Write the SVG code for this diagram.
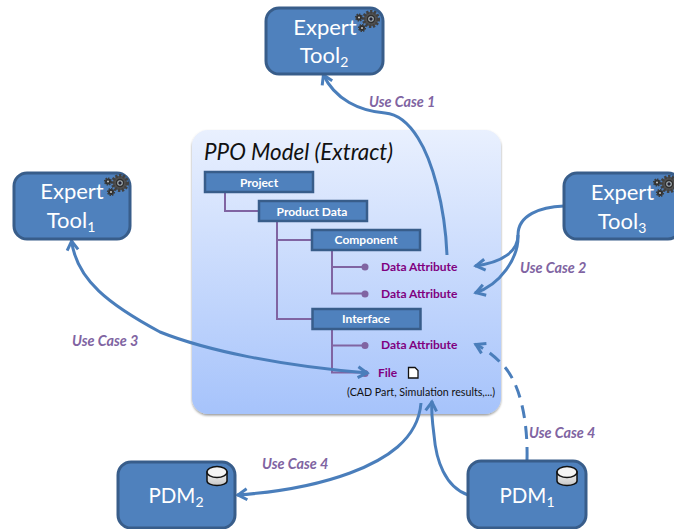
<svg xmlns="http://www.w3.org/2000/svg" xmlns:xlink="http://www.w3.org/1999/xlink" width="674" height="529" viewBox="0 0 674 529">
<style>
text{font-family:"Lato","Open Sans","Liberation Sans",sans-serif}
.node{fill:#4f81bd;stroke:#385d8a;stroke-width:3}
.nt{fill:#fff;font-size:22px;text-anchor:middle}
.pd{font-size:20.500px}
.sub{font-size:14px}
.tb{fill:#4f81bd;stroke:#385d8a;stroke-width:2.500}
.tt{fill:#fff;font-size:12px;font-weight:700;text-anchor:middle}
.tree{fill:none;stroke:#8064a2;stroke-width:2}
.dot{fill:#8064a2}
.attr{fill:#800080;font-size:12px;font-weight:700}
.uc{fill:#8064a2;font-size:14.400px;font-weight:700;font-style:italic}
.c{fill:none;stroke:#4a7ebb;stroke-width:3}
</style>
<defs>
<linearGradient id="panel" x1="0" y1="0" x2="0" y2="1"><stop offset="0" stop-color="#e9f0fe"/><stop offset="1" stop-color="#a6c3fb"/></linearGradient>
<filter id="sh" x="-5%" y="-5%" width="110%" height="110%"><feDropShadow dx="0" dy="1.500" stdDeviation="1.200" flood-color="#000" flood-opacity=".4"/></filter>
<marker id="a" viewBox="0 0 16 16" refX="2" refY="8" markerWidth="16" markerHeight="16" markerUnits="userSpaceOnUse" orient="auto"><path d="M12,2.500 L3,8 L12,13.500" fill="none" stroke="#4a7ebb" stroke-width="3"/></marker>
<marker id="b" viewBox="0 0 16 16" refX="14" refY="8" markerWidth="16" markerHeight="16" markerUnits="userSpaceOnUse" orient="auto"><path d="M4,2.500 L13,8 L4,13.500" fill="none" stroke="#4a7ebb" stroke-width="3"/></marker>
<g id="gears">
<circle r="7.300" fill="#505050" stroke="#404040" stroke-width="3.500" stroke-dasharray="2.200 1.500"/><circle r="4.200" fill="#2e2e2e"/><circle r="2.800" fill="#a9b4b8"/><circle r="1.700" fill="#223"/>
<circle cx="-12" cy="-1.500" r="3" fill="#2e2e2e" stroke="#3c3c3c" stroke-width="2.200" stroke-dasharray="1.300 1"/><circle cx="-12" cy="-1.500" r="1.100" fill="#bbb"/>
<circle cx="-9" cy="9" r="3" fill="#2e2e2e" stroke="#3c3c3c" stroke-width="2.200" stroke-dasharray="1.300 1"/><circle cx="-9" cy="9" r="1.100" fill="#bbb"/>
</g>
<linearGradient id="dg" x1="0" y1="0" x2="0" y2="1"><stop offset="0" stop-color="#f2f2f2"/><stop offset="1" stop-color="#c8c8c8"/></linearGradient>
<g id="disk">
<path d="M-10,-4 V5 A10,4.500 0 0 0 10,5 V-4Z" fill="url(#dg)" stroke="#111" stroke-width="1.500"/>
<ellipse cx="0" cy="-4" rx="10" ry="5.500" fill="#f4f4f4" stroke="#111" stroke-width="1.500"/>
</g>
</defs>

<g id="panel-ppo">
<rect x="192" y="130" width="309" height="284" rx="16" fill="url(#panel)" filter="url(#sh)"/>
<text x="204" y="160" font-size="22.400" font-style="italic" fill="#111">PPO Model (Extract)</text>
</g>

<g id="tree-lines">
<path class="tree" d="M225,192V211H258M277,221V319H312M277,240H312M332,250V293.500H365M332,267H365M332,329V372.500H365M332,345.500H365"/>
<circle class="dot" cx="365" cy="267" r="3.500"/><circle class="dot" cx="365" cy="294" r="3.500"/><circle class="dot" cx="365" cy="345.500" r="3.500"/><circle class="dot" cx="365" cy="373.500" r="3.500"/>
</g>
<g id="project"><rect class="tb" x="205" y="172" width="108" height="20"/><text class="tt" x="259" y="187">Project</text></g>
<g id="product-data"><rect class="tb" x="259" y="201" width="108" height="20"/><text class="tt" x="312" y="216">Product Data</text></g>
<g id="component"><rect class="tb" x="312" y="230" width="108" height="20"/><text class="tt" x="366" y="244">Component</text></g>
<g id="interface"><rect class="tb" x="312.500" y="309" width="108" height="20"/><text class="tt" x="366" y="323">Interface</text></g>
<g id="attrs">
<text class="attr" x="381" y="271">Data Attribute</text>
<text class="attr" x="381" y="298">Data Attribute</text>
<text class="attr" x="381" y="349">Data Attribute</text>
<text class="attr" x="378" y="377">File</text>
<path d="M408.500,367.500H415L418,370.500V378H408.500Z" fill="#fff" stroke="#111" stroke-width="1.300"/>
<text x="347" y="396" font-size="10.700" fill="#111">(CAD Part, Simulation results,...)</text>
</g>

<g id="connectors">
<path class="c" d="M447,255C445,205 432,160 418,138C408,122 397,114 385,113C360,111 335,100 323,74" marker-end="url(#b)"/>
<path class="c" d="M564,206C540,207 518,215 518,235C518,250 505,262 475,266" marker-end="url(#b)"/>
<path class="c" d="M518,235C519,258 500,285 475,293" marker-end="url(#b)"/>
<path class="c" d="M71.500,240C76,280 110,305 160,332C205,350 280,366 368,373" marker-start="url(#a)" marker-end="url(#b)"/>
<path class="c" d="M527,460C528,420 520,380 500,362C492,354 485,349 475,344" stroke-dasharray="13 8" marker-end="url(#b)"/>
<path class="c" d="M421,403C418,440 385,460 350,473C315,486 280,492 237,495" marker-end="url(#b)"/>
<path class="c" d="M468,495C445,487 436,460 434,435C432,420 431,412 432,401" marker-end="url(#b)"/>
</g>

<g id="labels">
<text class="uc" x="369" y="107">Use Case 1</text>
<text class="uc" x="520" y="273">Use Case 2</text>
<text class="uc" x="72" y="346">Use Case 3</text>
<text class="uc" x="529" y="438">Use Case 4</text>
<text class="uc" x="262" y="469">Use Case 4</text>
</g>

<g id="expert-tool-2"><rect class="node" x="266" y="8" width="117" height="66" rx="13"/><text class="nt" x="325" y="35">Expert</text><text class="nt" x="324" y="63">Tool<tspan class="sub" dy="4">2</tspan></text><use xlink:href="#gears" href="#gears" x="371" y="19"/></g>
<g id="expert-tool-1"><rect class="node" x="14" y="173" width="116" height="66" rx="13"/><text class="nt" x="72" y="199">Expert</text><text class="nt" x="71" y="228">Tool<tspan class="sub" dy="4">1</tspan></text><use xlink:href="#gears" href="#gears" x="120" y="183"/></g>
<g id="expert-tool-3"><rect class="node" x="564" y="173" width="117" height="66" rx="13"/><text class="nt" x="622.500" y="200">Expert</text><text class="nt" x="622" y="229">Tool<tspan class="sub" dy="4">3</tspan></text><use xlink:href="#gears" href="#gears" x="669" y="184"/></g>
<g id="pdm-2"><rect class="node" x="118" y="462" width="117" height="66" rx="13"/><text class="nt pd" x="176" y="503">PDM<tspan class="sub" dy="4">2</tspan></text><use xlink:href="#disk" href="#disk" x="217" y="476"/></g>
<g id="pdm-1"><rect class="node" x="468" y="461" width="118" height="67" rx="13"/><text class="nt pd" x="527" y="503">PDM<tspan class="sub" dy="4">1</tspan></text><use xlink:href="#disk" href="#disk" x="567" y="476"/></g>
</svg>
